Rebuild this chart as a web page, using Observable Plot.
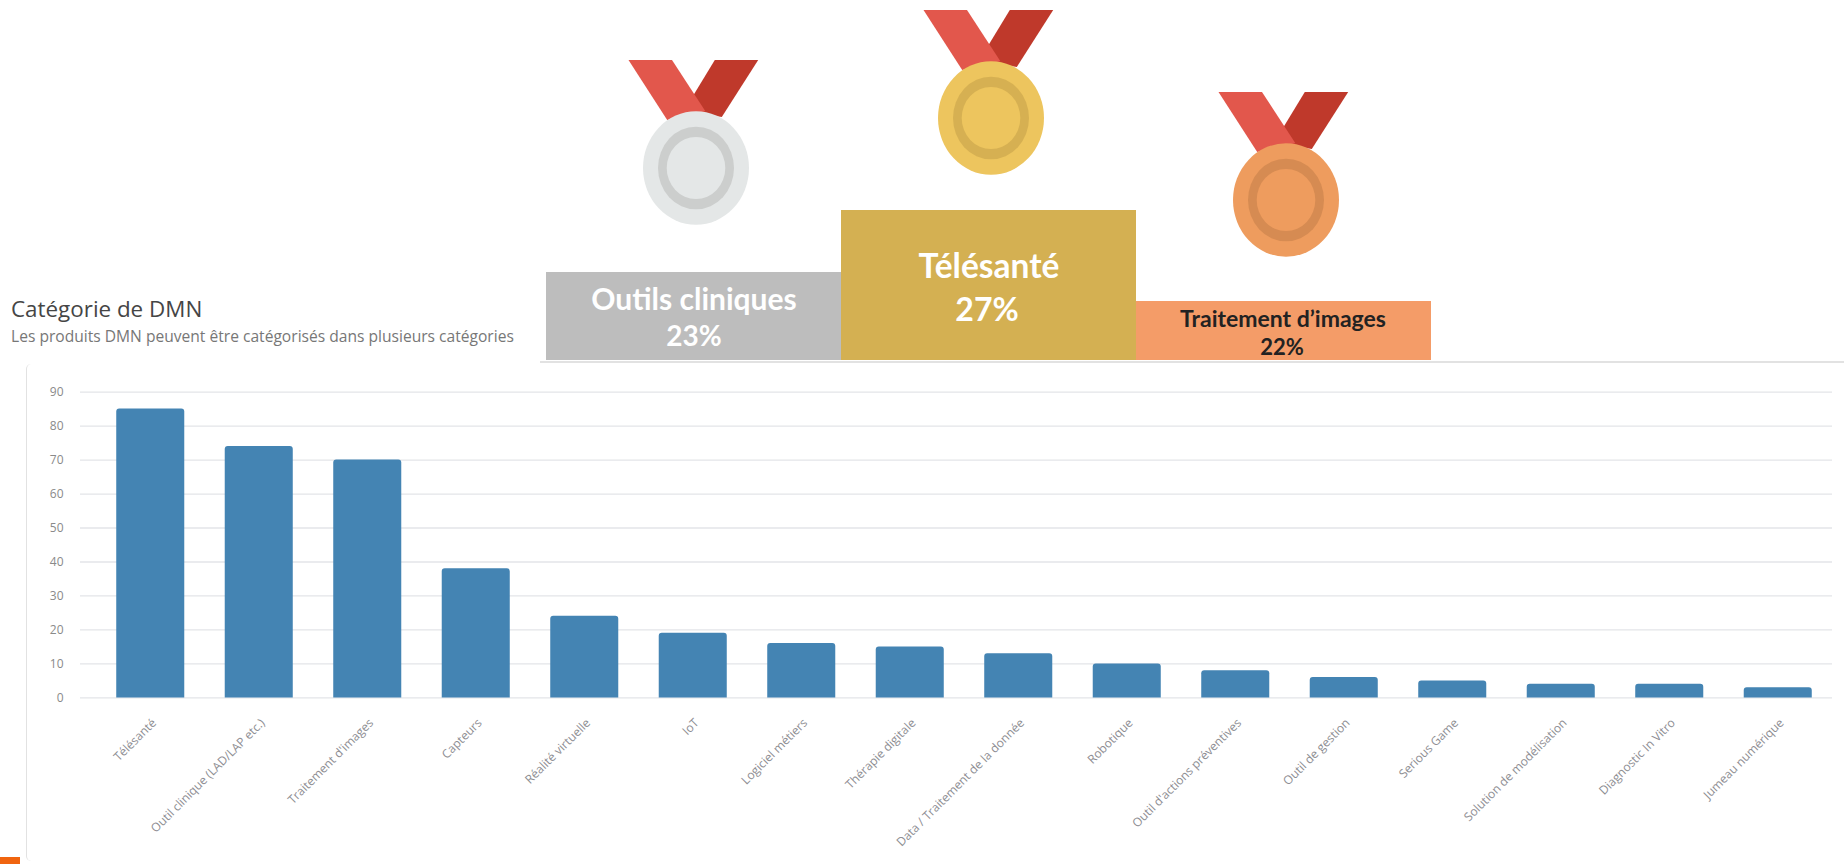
<!DOCTYPE html>
<html lang="fr">
<head>
<meta charset="utf-8">
<script src="https://cdn.jsdelivr.net/npm/d3@7"></script>
<script src="https://cdn.jsdelivr.net/npm/@observablehq/plot@0.6"></script>
<style>
html,body{margin:0;padding:0;background:#fff;}
#page{position:relative;width:1844px;height:864px;overflow:hidden;background:#fff;}
#page svg{position:absolute;left:0;top:0;}
.t{position:absolute;white-space:nowrap;font-family:"Open Sans",sans-serif;}
</style>
</head>
<body>
<div id="page">
  <div class="t" style="left:11px;top:294px;font-size:22.4px;line-height:30px;color:#454545">Catégorie de DMN</div>
  <div class="t" style="left:11px;top:326px;font-size:15.6px;line-height:21px;color:#777">Les produits DMN peuvent être catégorisés dans plusieurs catégories</div>
  <div style="position:absolute;left:26px;top:364px;width:30px;height:497px;border-left:1.5px solid #e2e2e2;border-radius:5px 0 0 5px"></div>
  <div style="position:absolute;left:0;top:857px;width:20px;height:7px;background:#f0640f"></div>
</div>
<script>
const categories = ["Télésanté","Outil clinique (LAD/LAP etc.)","Traitement d'images","Capteurs","Réalité virtuelle","IoT","Logiciel métiers","Thérapie digitale","Data / Traitement de la donnée","Robotique","Outil d'actions préventives","Outil de gestion","Serious Game","Solution de modélisation","Diagnostic In Vitro","Jumeau numérique"];
const counts = [85,74,70,38,24,19,16,15,13,10,8,6,5,4,4,3];
const yTicks = [0,10,20,30,40,50,60,70,80,90];

const podiumNames = ["Outils cliniques","Télésanté","Traitement d’images"];
const podiumShares = ["23%","27%","22%"];
const podiumSteps = [88,150,59];
const podiumFills = ["#bdbdbd","#d4b052","#f49c68"];
const medalFaces = ["#e4e7e7","#edc55e","#ee9c5e"];
const medalRings = ["#cccecd","#d6b052","#d68b52"];

const rows = categories.map((category,i)=>({category,count:counts[i]}));
const font = '"Open Sans",sans-serif';

const chart = Plot.plot({
  width:1844,height:864,
  marginTop:391.6,marginBottom:166.6,marginLeft:80,marginRight:12,
  style:{background:"transparent",fontFamily:font},
  x:{type:"band",domain:categories,range:[96,1832],paddingInner:.373,paddingOuter:.1865,round:false,label:null},
  y:{domain:[0,90],label:null},
  marks:[
    Plot.ruleY(yTicks,{stroke:"#e3e5e8",strokeWidth:1.3}),
    Plot.barY(rows,{x:"category",y:"count",fill:"#4484b3",ry1:3}),
    Plot.axisY({ticks:yTicks,tickSize:0,tickPadding:17,fontSize:12,color:"#8a8a8a",label:null}),
    Plot.axisX({tickSize:0,tickRotate:-45,tickPadding:20,dx:3.5,dy:3,fontSize:12,color:"#8d8d92",label:null,lineWidth:100})
  ]
});

const steps = podiumNames.map((name,i)=>({name,share:podiumShares[i],step:podiumSteps[i],fill:podiumFills[i],face:medalFaces[i],ring:medalRings[i]}));

function medals(index,{x,y},values,dims){
  const g=d3.create("svg:g");
  steps.forEach((d,i)=>{
    const cx=x(d.name)+x.bandwidth()/2+2.5;
    const cy=y(d.step)-(i===1?92:i===0?104:101);
    const m=g.append("g").attr("transform",`translate(${cx},${cy})`);
    m.append("path").attr("d","M18.8,-108L62.2,-108L25.8,-51L-4,-56L-2.3,-73.3Z").attr("fill","#bf392b");
    m.append("path").attr("d","M-67.5,-108L-24,-108L9.4,-56.7L-28.8,-48Z").attr("fill","#e2574c");
    m.append("ellipse").attr("rx",53).attr("ry",56.7).attr("fill",d.face);
    m.append("ellipse").attr("rx",38).attr("ry",41.3).attr("fill",d.ring);
    m.append("ellipse").attr("rx",29.3).attr("ry",31).attr("fill",d.face);
  });
  return g.node();
}

const label=(i,key,dy,dx,fontSize,fill)=>Plot.text([steps[i]],{x:"name",y:"step",text:key,dy,dx,fontSize,fill,fontWeight:700,fontFamily:"Lato, sans-serif",lineAnchor:"bottom"});

const podium = Plot.plot({
  width:1844,height:864,
  marginTop:0,marginBottom:504,marginLeft:546,marginRight:413,
  style:{background:"transparent"},
  x:{type:"band",domain:podiumNames,padding:0,round:false,axis:null},
  y:{domain:[0,360],axis:null},
  marks:[
    Plot.barY(steps,{x:"name",y:"step",fill:"fill"}),
    medals,
    label(0,"name",37,0,30,"#fff"),
    label(0,"share",73,0,28,"#fff"),
    label(1,"name",67,0,33.5,"#fff"),
    label(1,"share",110,-2,32,"#fff"),
    label(2,"name",25,-1,23,"#222"),
    label(2,"share",53,-2,22,"#222")
  ]
});

const page=document.getElementById("page");
page.append(chart);
page.append(podium);
const panelTop=document.createElement("div");
panelTop.style.cssText="position:absolute;left:540px;top:361px;right:0;height:1.5px;background:#e2e2e2";
page.append(panelTop);
</script>
</body>
</html>
